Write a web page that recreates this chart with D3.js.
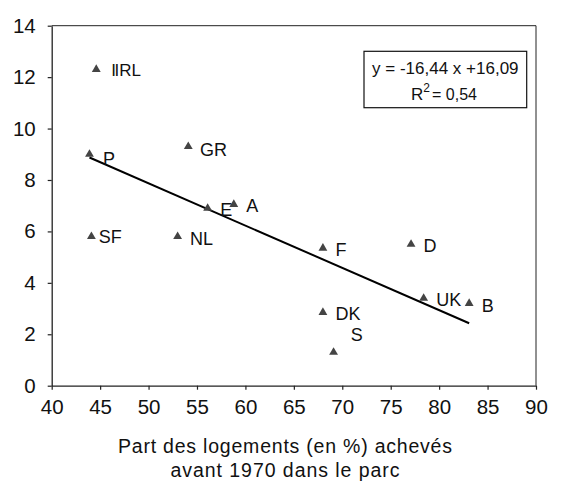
<!DOCTYPE html>
<html>
<head>
<meta charset="utf-8">
<script src="https://cdn.jsdelivr.net/npm/d3@7"></script>
<style>
  html, body { margin: 0; padding: 0; background: #fff; }
  svg { display: block; font-family: "Liberation Sans", Arial, sans-serif; }
</style>
</head>
<body>
<svg id="chart" width="562" height="483"></svg>
<script>
// Pays (codes) and their coordinates
const countries = ["IRL", "P", "GR", "E", "A", "SF", "NL", "F", "D", "UK", "B", "DK", "S"];
// Part des logements achevés avant 1970 (%)
const sharePre1970 = [44.6, 43.9, 54.1, 56.1, 58.8, 44.1, 53.0, 68.0, 77.1, 78.4, 83.1, 68.0, 69.1];
// Vertical variable
const yValues = [12.3, 9.0, 9.3, 6.9, 7.05, 5.8, 5.8, 5.35, 5.5, 3.4, 3.2, 2.85, 1.3];

// Linear trend (x expressed as a fraction)
const slope = -16.44;
const intercept = 16.09;
const r2Text = "0,54";
const equationText = "y = -16,44 x +16,09";

const xTicks = [40, 45, 50, 55, 60, 65, 70, 75, 80, 85, 90];
const yTicks = [0, 2, 4, 6, 8, 10, 12, 14];
const titleLines = ["Part des logements (en %) achevés", "avant 1970 dans le parc"];

// Label placement relative to each marker (pixels)
const labelOffset = { default: [12.5, 8], IRL: [15, 7], P: [13.4, 11], GR: [11.7, 9],
  SF: [7.3, 6.6], S: [17.3, -11.7], B: [12.7, 9] };

const svg = d3.select("#chart");
const plotLeft = 51.7, plotRight = 536, plotTop = 25.7, plotBottom = 385.7;

const x = d3.scaleLinear().domain([40, 90]).range([plotLeft, plotRight]);
const y = d3.scaleLinear().domain([0, 14]).range([plotBottom, plotTop]);

const ink = "#222";

// Frame: top and right edges
svg.append("path")
  .attr("d", `M${plotLeft},${plotTop}H${plotRight}V${plotBottom}`)
  .attr("fill", "none").attr("stroke", ink).attr("stroke-width", 1);

// Y axis
const yAxis = svg.append("g")
  .attr("transform", `translate(${plotLeft},0)`)
  .call(d3.axisLeft(y).tickValues(yTicks).tickSize(4).tickPadding(12).tickSizeOuter(0));
// X axis
const xAxis = svg.append("g")
  .attr("transform", `translate(0,${plotBottom})`)
  .call(d3.axisBottom(x).tickValues(xTicks).tickSize(4).tickPadding(10).tickSizeOuter(0));

[xAxis, yAxis].forEach(g => {
  g.select(".domain").attr("stroke", ink).attr("stroke-width", 1.3);
  g.selectAll(".tick line").attr("stroke", ink).attr("stroke-width", 1.2);
  g.selectAll(".tick text")
    .attr("font-family", "Liberation Sans, Arial, sans-serif")
    .attr("font-size", 20.5).attr("fill", "#111");
});

// Trend line over the observed range
const xMin = d3.min(sharePre1970), xMax = d3.max(sharePre1970);
svg.append("line")
  .attr("x1", x(xMin)).attr("y1", y(slope * xMin / 100 + intercept))
  .attr("x2", x(xMax)).attr("y2", y(slope * xMax / 100 + intercept))
  .attr("stroke", "#000").attr("stroke-width", 2);

// Triangle markers
const tri = d3.symbol().type(d3.symbolTriangle).size(34);
svg.append("g").selectAll("path")
  .data(countries)
  .join("path")
  .attr("d", tri)
  .attr("transform", (c, i) => `translate(${x(sharePre1970[i])},${y(yValues[i])})`)
  .attr("fill", "#444");

// Country labels (the IRL label shows a doubled first stroke)
svg.append("g").selectAll("text")
  .data(countries)
  .join("text")
  .attr("x", (c, i) => x(sharePre1970[i]) + (labelOffset[c] || labelOffset.default)[0])
  .attr("y", (c, i) => y(yValues[i]) + (labelOffset[c] || labelOffset.default)[1])
  .attr("font-size", c => c === "IRL" ? 17 : 18)
  .attr("fill", "#111")
  .each(function (c) {
    const t = d3.select(this);
    if (c === "IRL") {
      t.append("tspan").text("I");
      t.append("tspan").attr("dx", -1.4).text("IRL");
    } else {
      t.text(c);
    }
  });

// Equation box
const box = svg.append("g");
box.append("rect")
  .attr("x", 364).attr("y", 51.3).attr("width", 162.7).attr("height", 56.4)
  .attr("fill", "#fff").attr("stroke", "#111").attr("stroke-width", 1.2);
box.append("text")
  .attr("x", 445.3).attr("y", 73.5).attr("text-anchor", "middle")
  .attr("font-size", 17).attr("fill", "#111").text(equationText);
const r2 = box.append("text")
  .attr("x", 444).attr("y", 100).attr("text-anchor", "middle")
  .attr("font-size", 17).attr("fill", "#111");
r2.append("tspan").text("R");
r2.append("tspan").attr("font-size", 12).attr("dy", -8).text("2");
r2.append("tspan").attr("font-size", 16).attr("dy", 8).attr("dx", 2).text("= " + r2Text);

// X axis title
const titleWidths = [334, 229];
svg.append("g").selectAll("text")
  .data(titleLines)
  .join("text")
  .attr("x", 285).attr("y", (d, i) => 452.5 + i * 24.5)
  .attr("text-anchor", "middle")
  .attr("font-size", 19.5).attr("fill", "#111")
  .attr("textLength", (d, i) => titleWidths[i])
  .attr("lengthAdjust", "spacing")
  .text(d => d);
</script>
</body>
</html>
